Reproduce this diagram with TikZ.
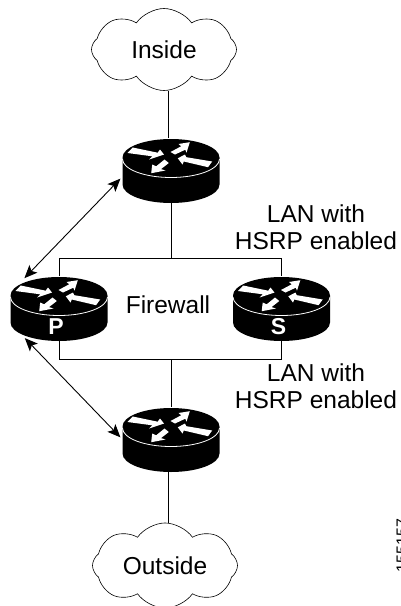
\documentclass[tikz,border=0pt]{standalone}
\usepackage{fontspec}
\setmainfont{Liberation Sans}
\usetikzlibrary{positioning,shapes.symbols,arrows.meta}
\newcommand{\labelfont}{\fontsize{24.5}{27}\selectfont}
\newcommand{\router}[2]{%
  \node[routerbox,#2] (#1) {};
  \begin{scope}[shift={(#1.center)}]
    \fill[black] (-48.5,-13) arc[start angle=180,end angle=0,x radius=48.5pt,y radius=18.5pt] -- (48.5,14) arc[start angle=0,end angle=-180,x radius=48.5pt,y radius=18.5pt] -- cycle;
    \draw[white, line width=0.8pt] (-48.5,-11.5) arc[start angle=180,end angle=360,x radius=48.5pt,y radius=18.5pt];
    \fill[white] (-43.5,-17.5) -- (-38.3,-23) -- (-13.3,-17.8) -- (-11,-21) -- (-7,-16) -- (-22,-11) -- (-18.8,-14.2) -- cycle;
    \fill[white] (18.8,-28.3) -- (7.5,-26.5) -- (10.2,-24.2) -- (-0.5,-18.5) -- (4,-16) -- (14.3,-20.8) -- (15.5,-17.8) -- cycle;
    \fill[white] (-19.8,2.7) -- (-18.8,-6) -- (-14.8,-4.2) -- (-6.5,-11) -- (-2.2,-7.5) -- (-10,-1.4) -- (-5.5,0) -- cycle;
    \fill[white] (6.8,-12.2) -- (14,-16) -- (15.3,-13.3) -- (41.2,-9) -- (37,-3.3) -- (12.8,-9) -- (11.5,-6) -- cycle;
  \end{scope}
}
\tikzset{
  routerbox/.style={inner sep=0pt, outer sep=0pt, minimum width=97pt, minimum height=65pt},
  routertag/.style={inner sep=0pt, text=white, font=\fontsize{23}{23}\selectfont\bfseries},
  cloudbox/.style={draw, line width=0.6pt, cloud, cloud puffs=8, cloud puff arc=110, aspect=1.8, inner sep=0pt, outer sep=0pt, minimum width=145pt, minimum height=82pt, font=\labelfont},
  lanlabel/.style={align=center, inner sep=0pt, font=\labelfont},
  link/.style={line width=0.9pt},
  mgmtlink/.style={line width=0.9pt, <->, >={Stealth[length=13pt,width=11pt,inset=3pt]}}
}
\begin{document}
\begin{tikzpicture}[x=1pt, y=-1pt, on grid]
      \useasboundingbox (0,0) rectangle (400,606);
      % Nodes
      \router{rtrtop}{at={(171,170.5)}}
      \router{rtrP}{below left=138pt and 112pt of rtrtop}
      \router{rtrS}{right=222.5pt of rtrP}
      \router{rtrbot}{below=269pt of rtrtop}
      \node[routertag, below left=18.5pt and 3pt of rtrP] (tagP) {P};
      \node[routertag, below left=18.5pt and 3pt of rtrS] (tagS) {S};
      \node[cloudbox, above left=121pt and 7pt of rtrtop] (cloudin) {Inside};
      \node[cloudbox, below left=126pt and 6pt of rtrbot] (cloudout) {Outside};
      \node[lanlabel, above right=4pt and 109pt of rtrP] (firewall) {Firewall};
      \node[lanlabel, above right=81pt and 34.5pt of rtrS] (lanup) {LAN with\\HSRP enabled};
      \node[lanlabel, below right=77.5pt and 34.5pt of rtrS] (landown) {LAN with\\HSRP enabled};
      \node[inner sep=0pt, rotate=90, anchor=north, font=\fontsize{16}{16}\selectfont] (figid) at (396.5,545.5) {155157};
      \coordinate (lantop) at (171,258.7);
      \coordinate (lanbot) at (171,359);
      % Links
      \draw[link] (rtrtop.94) -- (rtrtop.94 |- cloudin.south);
      \draw[link] (rtrbot.-94) -- (rtrbot.-94 |- cloudout.north);
      \draw[link] (rtrtop.south) -- (lantop);
      \draw[link] (lanbot) -- (rtrbot.north);
      \draw[link] (rtrP.north) -- (rtrP.north |- lantop) -- (rtrS.north |- lantop) -- (rtrS.north);
      \draw[link] (rtrP.south) -- (rtrP.south |- lanbot) -- (rtrS.south |- lanbot) -- (rtrS.south);
      % Arrows
      \draw[mgmtlink, shorten <=-3pt, shorten >=3pt] (rtrP.135) -- (rtrtop.187);
      \draw[mgmtlink, shorten <=-4pt, shorten >=3pt] (rtrP.226) -- (rtrbot.180);
\end{tikzpicture}
\end{document}
